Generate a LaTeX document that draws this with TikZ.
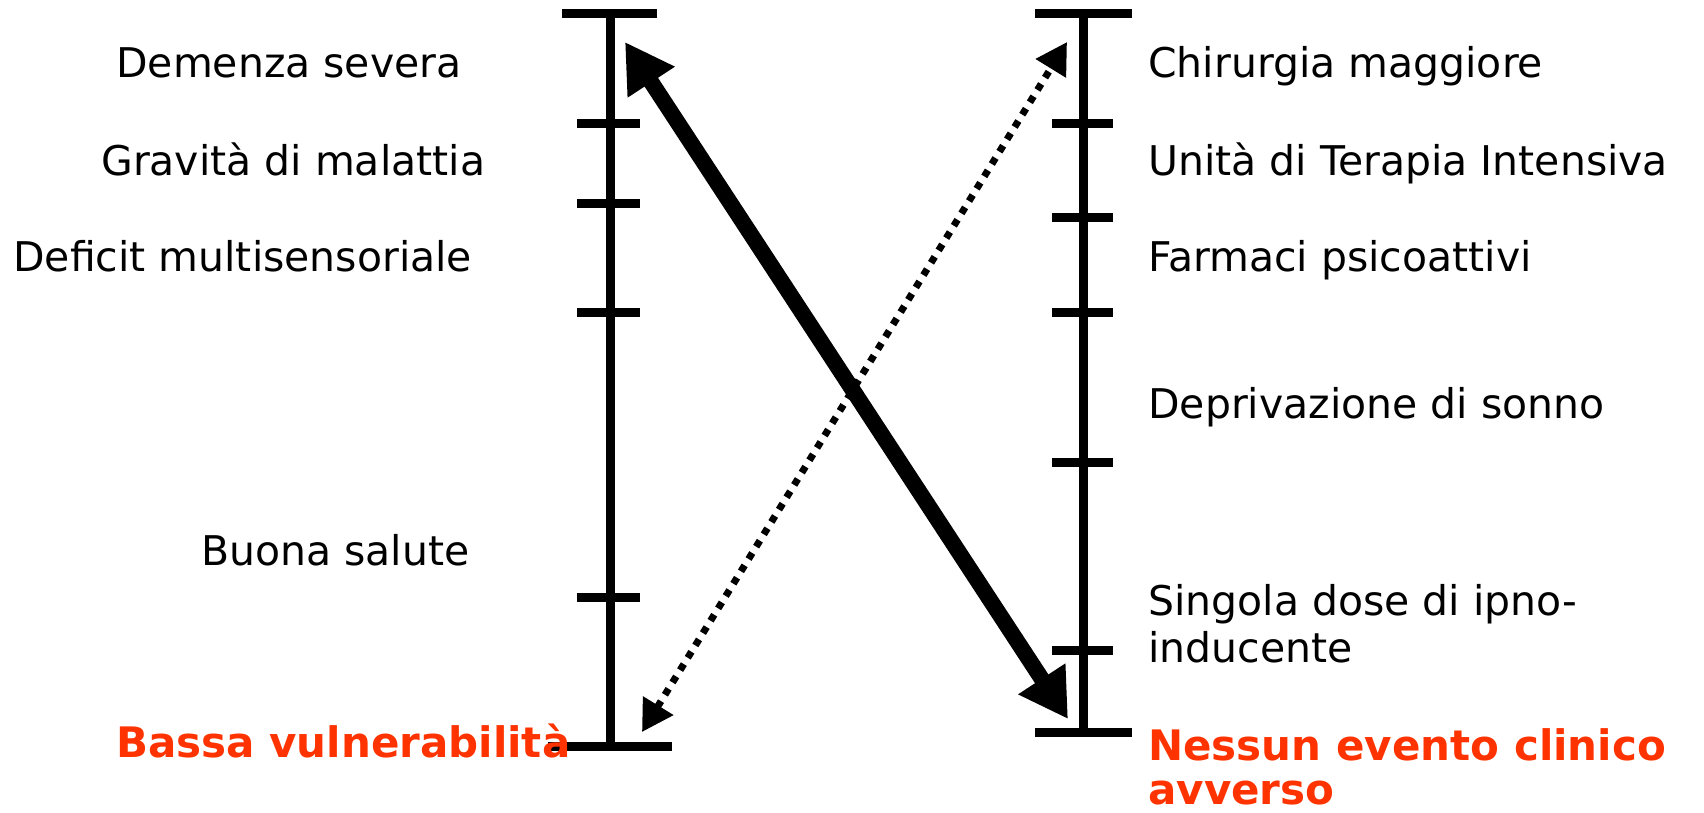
\documentclass[tikz,border=0pt]{standalone}
\usepackage{fontspec}
\setmainfont{DejaVu Sans}
\usetikzlibrary{arrows.meta}
\definecolor{alarmred}{RGB}{255,51,0}

\begin{document}
\begin{tikzpicture}[x=0.02cm,y=-0.02cm,
    scale line/.style={line width=0.18cm},
    risk/.style={anchor=base west,inner sep=0pt,font=\fontsize{23.3}{28}\selectfont},
    outcome/.style={risk,font=\fontsize{23.9}{28}\selectfont\bfseries,text=alarmred},
    strong/.style={line width=0.32cm,{Triangle[length=0.96cm,width=1.06cm]}-{Triangle[length=0.96cm,width=1.06cm]}},
    weak/.style={line width=0.14cm,dash pattern=on 0.14cm off 0.15cm,{Triangle[length=0.62cm,width=0.68cm]}-{Triangle[length=0.62cm,width=0.68cm]}}]
\useasboundingbox (0,0) rectangle (1704,812);
%Left scale: vulnerability of the patient
\draw[scale line] (610,13) -- (610,746);
\draw[scale line] (562,13) -- (657,13);
\draw[scale line] (548,746) -- (672,746);
\draw[scale line] (577,123) -- (640,123);
\draw[scale line] (577,203) -- (640,203);
\draw[scale line] (577,312) -- (640,312);
\draw[scale line] (577,597) -- (640,597);
%Right scale: noxious insults
\draw[scale line] (1083,13) -- (1083,732);
\draw[scale line] (1035,13) -- (1132,13);
\draw[scale line] (1035,732) -- (1132,732);
\draw[scale line] (1052,123) -- (1113,123);
\draw[scale line] (1052,217) -- (1113,217);
\draw[scale line] (1052,312) -- (1113,312);
\draw[scale line] (1052,462) -- (1113,462);
\draw[scale line] (1052,650) -- (1113,650);
% labels on the left
\node[risk] (demenza) at (116,77) {Demenza severa};
\node[risk] (gravita) at (101,175) {Gravità di malattia};
\node[risk] (deficit) at (13,271) {Deficit multisensoriale};
\node[risk] (buona) at (201,565) {Buona salute};
\node[outcome] (bassa) at (116,757) {Bassa vulnerabilità};
% labels on the right
\node[risk] (chirurgia) at (1148,77) {Chirurgia maggiore};
\node[risk] (uti) at (1148,175) {Unità di Terapia Intensiva};
\node[risk] (farmaci) at (1148,271) {Farmaci psicoattivi};
\node[risk] (sonno) at (1148,418) {Deprivazione di sonno};
\node[risk] (singola) at (1148,615) {Singola dose di ipno-};
\node[risk] (inducente) at (1148,662) {inducente};
\node[outcome] (nessun) at (1148,760) {Nessun evento clinico};
\node[outcome] (avverso) at (1148,804) {avverso};
% the two arrows crossing
\coordinate (hiV) at (625,42);
\coordinate (loI) at (1068,719);
\coordinate (loV) at (642,732);
\coordinate (hiI) at (1067,42);
\draw[strong] (hiV) -- (loI);
\draw[weak] (loV) -- (hiI);
\end{tikzpicture}
\end{document}
